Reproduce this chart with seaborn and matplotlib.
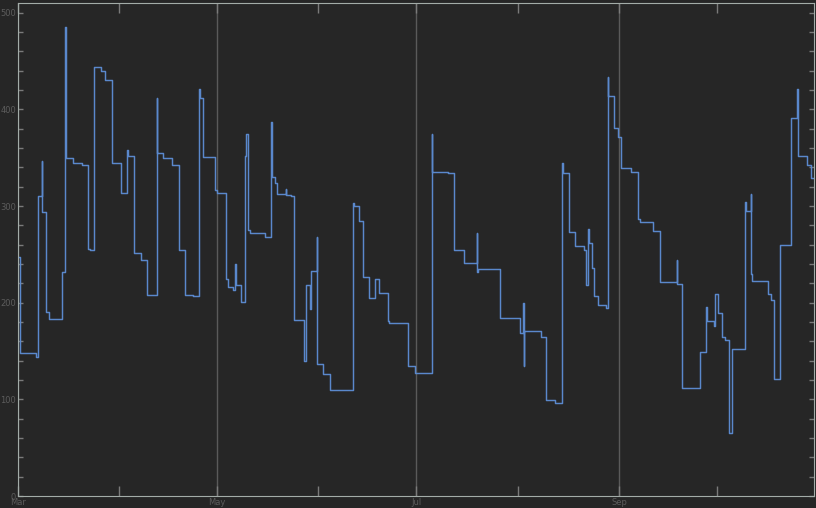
import matplotlib
matplotlib.use("Agg")
import matplotlib.pyplot as plt
import matplotlib.dates as mdates
from matplotlib.ticker import MultipleLocator
import seaborn as sns
import pandas as pd

# ---- data: step series (change points, days after start) ----
start_date = "2015-03-01"
change_days = [
    0.0, 0.8, 5.5, 6.3, 7.4, 7.6, 8.8, 9.6, 13.5, 14.5, 14.7, 17.0, 19.6, 21.6, 22.0,
    23.4, 25.5, 26.7, 28.8, 31.6, 33.6, 33.8, 35.7, 37.8, 39.6, 42.6, 42.8, 44.6, 47.3,
    49.5, 51.2, 53.8, 55.5, 55.8, 56.6, 60.4, 61.0, 63.7, 64.5, 66.0, 66.5, 66.7, 68.4,
    69.6, 69.9, 70.6, 71.0, 75.7, 77.5, 77.7, 78.8, 79.3, 82.0, 82.2, 83.5, 84.7, 87.7,
    88.3, 89.5, 89.7, 91.5, 91.7, 93.5, 95.6, 102.7, 103.0, 104.6, 105.6, 107.5, 109.4,
    110.6, 113.3, 113.6, 119.6, 121.6, 126.7, 126.9, 131.8, 133.6, 136.7, 140.5, 140.7,
    141.0, 147.6, 153.6, 154.6, 154.8, 155.0, 160.2, 161.6, 164.5, 166.7, 166.9, 168.7,
    170.5, 173.4, 173.8, 174.6, 174.8, 175.9, 176.5, 177.7, 180.0, 180.5, 180.7, 182.6,
    183.6, 184.6, 187.7, 189.7, 190.3, 194.5, 196.6, 201.7, 201.9, 203.4, 208.8, 210.6,
    210.8, 213.2, 213.4, 214.4, 215.6, 216.5, 217.7, 218.7, 222.6, 223.0, 224.3, 224.5,
    224.8, 229.5, 230.5, 231.6, 233.3, 236.7, 238.6, 238.8, 241.6, 242.7, 243.7,
]
values = [
    247, 148, 144, 310, 347, 294, 190, 183, 232, 485, 350, 344, 342, 256, 255,
    444, 440, 430, 345, 313, 358, 352, 251, 244, 208, 412, 355, 350, 342,
    255, 208, 207, 421, 412, 351, 317, 313, 224, 216, 213, 240, 218, 201,
    352, 374, 275, 272, 268, 387, 330, 324, 312, 318, 311, 310, 182, 140,
    218, 193, 233, 268, 137, 126, 110, 303, 300, 285, 227, 205, 224,
    210, 181, 179, 134, 127, 375, 335, 334, 255, 241, 272, 232,
    235, 184, 169, 200, 134, 171, 165, 99, 96, 344, 334, 273,
    259, 255, 218, 276, 262, 236, 207, 198, 194, 433, 414, 381,
    371, 339, 335, 287, 283, 274, 221, 244, 219, 112, 149, 196,
    181, 176, 209, 189, 164, 161, 65, 152, 304, 295, 312, 230,
    222, 209, 203, 121, 260, 391, 421, 352, 342, 329, 329,
]

y_ticks = [0, 100, 200, 300, 400, 500]

df = pd.DataFrame({
    "date": pd.Timestamp(start_date) + pd.to_timedelta(change_days, unit="D"),
    "value": values,
})

bg = "#262626"
sns.set_style("dark", rc={
    "axes.facecolor": bg,
    "figure.facecolor": bg,
    "axes.edgecolor": "#a3aca8",
    "axes.linewidth": 1.0,
    "grid.color": "#5a5a5a",
    "xtick.color": "#7a7a7a",
    "ytick.color": "#7a7a7a",
    "text.color": "#5c5c5c",
})
plt.rcParams["font.family"] = ["DejaVu Sans"]

fig = plt.figure(figsize=(8.16, 5.08), dpi=100)
ax = fig.add_axes([0.0216, 0.0236, 0.9760, 0.9705])

sns.lineplot(data=df, x="date", y="value", ax=ax, drawstyle="steps-post",
             color="#5a88cc", linewidth=1.05, estimator=None, sort=False)

ax.set_xlim(df["date"].iloc[0], df["date"].iloc[-1])
ax.set_ylim(0, 510)

ax.xaxis.set_major_locator(mdates.MonthLocator(bymonth=[3, 5, 7, 9]))
ax.xaxis.set_major_formatter(mdates.DateFormatter("%b"))
ax.xaxis.set_minor_locator(mdates.MonthLocator())
ax.set_yticks(y_ticks)
ax.yaxis.set_minor_locator(MultipleLocator(20))

ax.grid(True, axis="x", which="major", color="#5a5a5a", linewidth=1.0)
ax.grid(False, axis="y")

ax.tick_params(axis="x", which="both", direction="in", length=7, width=1,
               top=True, bottom=True, labelsize=6, labelcolor="#5c5c5c", pad=1.5)
ax.tick_params(axis="y", which="both", direction="in", length=3.5, width=1,
               left=True, right=True, labelsize=6, labelcolor="#5c5c5c", pad=1)

for side in ["left", "right", "top", "bottom"]:
    ax.spines[side].set_visible(True)
    ax.spines[side].set_color("#a3aca8")

ax.set_xlabel("")
ax.set_ylabel("")

fig.savefig("out.png", dpi=100, facecolor=bg)
